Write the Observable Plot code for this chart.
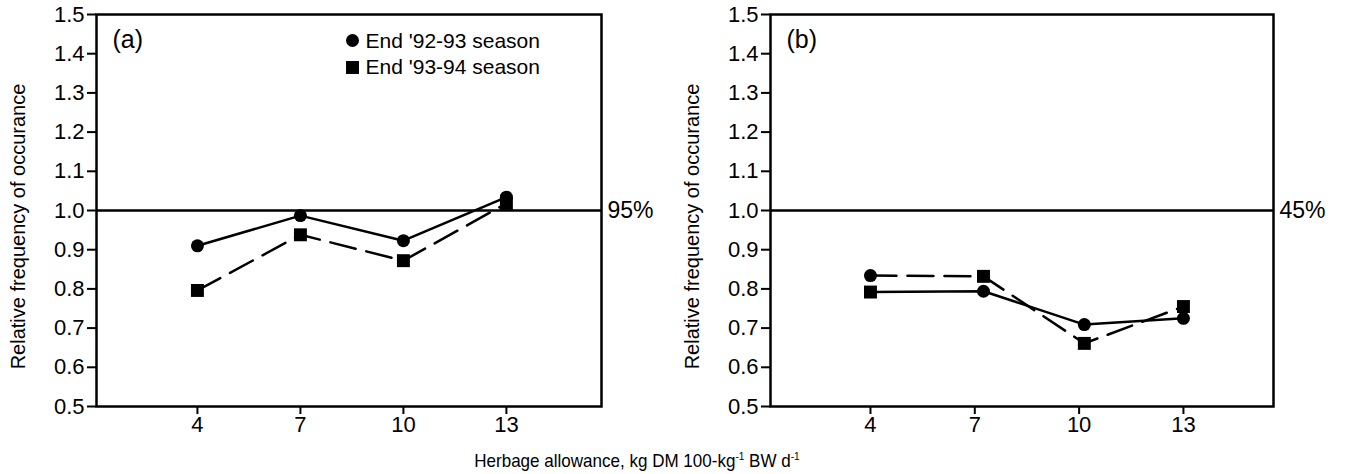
<!DOCTYPE html>
<html>
<head>
<meta charset="utf-8">
<script src="https://cdn.jsdelivr.net/npm/d3@7"></script>
<script src="https://cdn.jsdelivr.net/npm/@observablehq/plot@0.6"></script>
<style>
  body { margin: 0; background: #fff; }
  #wrap { position: relative; width: 1349px; height: 474px; background: #fff; font-family: "Liberation Sans", Arial, sans-serif; }
  .panel { position: absolute; top: 0; }
  #xlabel { position: absolute; top: 450px; left: 0; width: 1274px; text-align: center; font-size: 18.5px; color: #000; transform: scaleX(0.92); transform-origin: 637px 0; }
  #xlabel sup { font-size: 11px; vertical-align: 7px; line-height: 0; }
</style>
</head>
<body>
<div id="wrap">
  <div class="panel" id="pa" style="left:0px"></div>
  <div class="panel" id="pb" style="left:674px"></div>
  <div id="xlabel">Herbage allowance, kg DM 100-kg<sup>-1</sup> BW d<sup>-1</sup></div>
</div>
<script>
// ---- data ----
const xTicks = [4, 7, 10, 13];
const yTicks = [0.5, 0.6, 0.7, 0.8, 0.9, 1.0, 1.1, 1.2, 1.3, 1.4, 1.5];
const seriesNames = ["End '92-93 season", "End '93-94 season"];
const yLabel = "Relative frequency of occurance";

// panel (a)
const aX = [4, 7, 10, 13];
const aSolidY = [0.91, 0.987, 0.923, 1.034];   // End '92-93 (circles, solid)
const aDashedY = [0.796, 0.938, 0.872, 1.018]; // End '93-94 (squares, dashed)
const aCircleY = [0.91, 0.987, 0.923, 1.034];
const aSquareY = [0.796, 0.938, 0.872, 1.018];
const aRef = 1.0;
const aRefLabel = "95%";

// panel (b)
const bX = [4, 7.25, 10.15, 13];
const bSolidY = [0.792, 0.794, 0.709, 0.725];
const bDashedY = [0.834, 0.832, 0.661, 0.755];
const bCircleY = [0.834, 0.794, 0.709, 0.725];
const bSquareY = [0.792, 0.832, 0.661, 0.755];
const bRef = 1.0;
const bRefLabel = "45%";

const FONT = "'Liberation Sans', Arial, sans-serif";

function pts(xs, ys) { return xs.map((x, i) => ({x, y: ys[i]})); }

function panel({width, marginRight, xDomain, xs, solidY, dashedY, circleY, squareY, ref, refLabel, tag, legend}) {
  const marks = [
    Plot.frame({stroke: "black", strokeWidth: 2.5}),
    Plot.axisY(yTicks, {tickSize: 9, tickPadding: 3, fontSize: 22, strokeWidth: 2, tickFormat: d3.format(".1f"), label: null}),
    Plot.axisX(xTicks, {tickSize: 8, tickPadding: 2, fontSize: 22, strokeWidth: 2, label: null}),
    Plot.ruleY([ref], {stroke: "black", strokeWidth: 2.5}),
    Plot.text([refLabel], {y: () => ref, text: d => d, frameAnchor: "right", textAnchor: "start", dx: 6, fontSize: 23}),
    Plot.text([tag], {text: d => d, frameAnchor: "top-left", textAnchor: "start", lineAnchor: "top", dx: 16, dy: 16, fontSize: 25}),
    Plot.text([yLabel], {text: d => d, frameAnchor: "left", textAnchor: "middle", lineAnchor: "middle", rotate: -90, dx: -78, dy: 16, fontSize: 20}),
    Plot.line(pts(xs, solidY), {x: "x", y: "y", stroke: "black", strokeWidth: 2.5}),
    Plot.line(pts(xs, dashedY), {x: "x", y: "y", stroke: "black", strokeWidth: 2.5, strokeDasharray: "26,11"}),
    Plot.dot(pts(xs, circleY), {x: "x", y: "y", symbol: "circle", r: 6.5, fill: "black"}),
    Plot.dot(pts(xs, squareY), {x: "x", y: "y", symbol: "square", r: 7.3, fill: "black"})
  ];
  if (legend) {
    const syms = ["circle", "square"];
    const rs = [6.5, 7.3];
    seriesNames.forEach((name, i) => {
      marks.push(Plot.dot([name], {frameAnchor: "top-left", dx: 256, dy: 26 + 27 * i, symbol: syms[i], r: rs[i], fill: "black"}));
      marks.push(Plot.text([name], {text: d => d, frameAnchor: "top-left", textAnchor: "start", lineAnchor: "middle", dx: 269, dy: 27 + 26 * i, fontSize: 21}));
    });
  }
  return Plot.plot({
    width, height: 440,
    marginLeft: 96, marginRight, marginTop: 14, marginBottom: 34,
    style: {fontFamily: FONT, fontSize: "21px", color: "black", background: "white"},
    x: {domain: xDomain},
    y: {domain: [0.5, 1.5]},
    marks
  });
}

document.getElementById("pa").append(panel({
  width: 680, marginRight: 79, xDomain: [1.06, 15.77],
  xs: aX, solidY: aSolidY, dashedY: aDashedY, circleY: aCircleY, squareY: aSquareY,
  ref: aRef, refLabel: aRefLabel, tag: "(a)", legend: true
}));
document.getElementById("pb").append(panel({
  width: 675, marginRight: 76, xDomain: [1.125, 15.59],
  xs: bX, solidY: bSolidY, dashedY: bDashedY, circleY: bCircleY, squareY: bSquareY,
  ref: bRef, refLabel: bRefLabel, tag: "(b)", legend: false
}));
</script>
</body>
</html>
